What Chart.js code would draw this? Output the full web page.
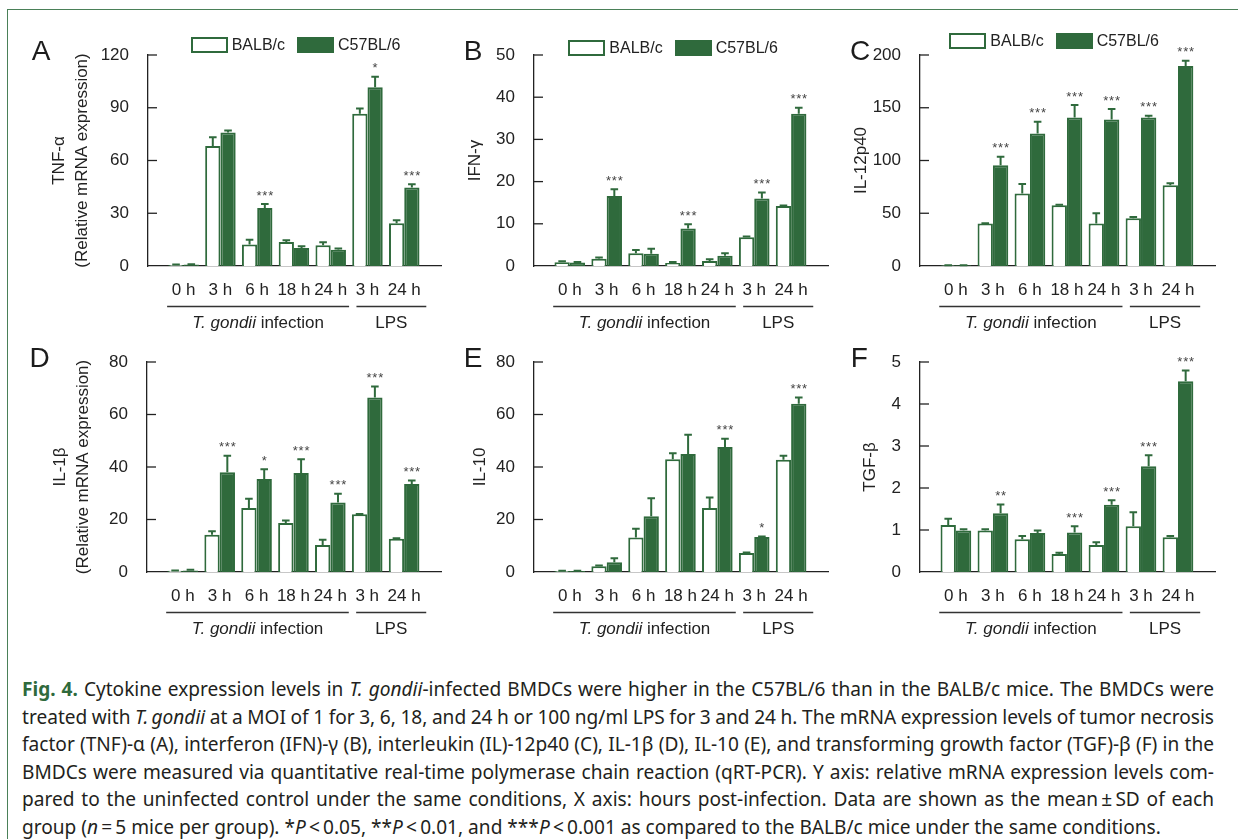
<!DOCTYPE html>
<html><head><meta charset="utf-8">
<script src="https://cdn.jsdelivr.net/npm/chart.js@4.4.1/dist/chart.umd.min.js"></script>
<style>
html,body{margin:0;padding:0;background:#fff;}
body{width:1238px;height:839px;position:relative;overflow:hidden;font-family:'Liberation Sans',Arial,sans-serif;color:#222;}
#frame{position:absolute;left:7px;top:9px;width:1260px;height:860px;border-top:1.5px solid #4a8058;border-left:1.5px solid #4a8058;}
canvas{position:absolute;}
.letter{position:absolute;font-size:28px;line-height:28px;color:#1c1c1c;}
.legend{position:absolute;display:flex;align-items:center;font-size:16px;line-height:16px;color:#222;height:16px;}
.legend .box{width:37px;height:16px;box-sizing:border-box;border:2px solid #2f6a3c;}
.legend .t1{margin:0 12px 0 4px;}
.legend .t2{margin:0 0 0 4px;}
#caption{position:absolute;left:22px;top:676px;width:1192px;font-family:'Noto Sans','Open Sans',sans-serif;font-size:19.1px;line-height:27.6px;color:#231f20;}
#caption .cl{white-space:nowrap;}
#caption .fig{color:#2f6a3c;font-weight:bold;}
</style>
</head><body>
<div id="frame"></div>
<div id="caption">
<div class="cl j"><span><span class="fig">Fig. 4.</span> Cytokine expression levels in <i>T. gondii</i>-infected BMDCs were higher in the C57BL/6 than in the BALB/c mice. The BMDCs were</span></div>
<div class="cl j"><span>treated with <i>T.&#8201;gondii</i> at a MOI of 1 for 3, 6, 18, and 24 h or 100 ng/ml LPS for 3 and 24 h. The mRNA expression levels of tumor necrosis</span></div>
<div class="cl j"><span>factor (TNF)-α (A), interferon (IFN)-γ (B), interleukin (IL)-12p40 (C), IL-1β (D), IL-10 (E), and transforming growth factor (TGF)-β (F) in the</span></div>
<div class="cl j"><span>BMDCs were measured via quantitative real-time polymerase chain reaction (qRT-PCR). Y axis: relative mRNA expression levels com-</span></div>
<div class="cl j"><span>pared to the uninfected control under the same conditions, X axis: hours post-infection. Data are shown as the mean&#8201;±&#8201;SD of each</span></div>
<div class="cl"><span>group (<i>n</i>&#8201;=&#8201;5 mice per group). *<i>P</i>&#8201;&lt;&#8201;0.05, **<i>P</i>&#8201;&lt;&#8201;0.01, and ***<i>P</i>&#8201;&lt;&#8201;0.001 as compared to the BALB/c mice under the same conditions.</span></div>
</div>
<script>
// ---------------- data ----------------
const categories = ['0 h', '3 h', '6 h', '18 h', '24 h', '3 h', '24 h'];
const seriesNames = ['BALB/c', 'C57BL/6'];
const groupNames = ['T. gondii infection', 'LPS'];

const tnfBalb   = [0.5, 68.2, 12.2, 13.7, 11.8, 86.6, 24.3];
const tnfBalbSd = [0.3, 5.0, 2.8, 0.9, 1.7, 3.0, 1.7];
const tnfC57    = [0.8, 75.9, 33.0, 10.3, 9.3, 101.6, 44.6];
const tnfC57Sd  = [0.2, 1.2, 2.3, 0.9, 0.6, 6.1, 1.9];
const tnfSig    = ['', '', '***', '', '', '*', '***'];
const tnfTicks  = [0, 30, 60, 90, 120];

const ifnBalb   = [0.9, 1.7, 3.0, 0.7, 1.2, 6.8, 14.2];
const ifnBalbSd = [0.2, 0.3, 0.8, 0.25, 0.4, 0.2, 0.15];
const ifnC57    = [0.8, 16.6, 2.9, 8.9, 2.45, 16.0, 36.1];
const ifnC57Sd  = [0.15, 1.6, 1.2, 1.0, 0.6, 1.4, 1.4];
const ifnSig    = ['', '***', '', '***', '', '***', '***'];
const ifnTicks  = [0, 10, 20, 30, 40, 50];

const il12Balb   = [0.6, 40.2, 68.7, 57.6, 40.2, 45.3, 76.6];
const il12BalbSd = [0.2, 0.4, 9.1, 0.4, 9.8, 1.2, 1.9];
const il12C57    = [0.6, 95.6, 125.6, 140.8, 138.9, 140.8, 189.6];
const il12C57Sd  = [0.2, 7.9, 11.1, 11.7, 9.8, 1.6, 5.0];
const il12Sig    = ['', '***', '***', '***', '***', '***', '***'];
const il12Ticks  = [0, 50, 100, 150, 200];

const il1bBalb   = [0.5, 14.2, 24.4, 18.7, 10.3, 22.0, 12.7];
const il1bBalbSd = [0.1, 1.3, 3.5, 0.9, 2.0, 0.1, 0.2];
const il1bC57    = [0.6, 38.0, 35.4, 37.7, 26.5, 66.5, 33.5];
const il1bC57Sd  = [0.3, 6.3, 3.7, 5.3, 3.3, 4.2, 1.4];
const il1bSig    = ['', '***', '*', '***', '***', '***', '***'];
const il1bTicks  = [0, 20, 40, 60, 80];

const il10Balb   = [0.4, 2.2, 13.1, 43.0, 24.4, 7.2, 42.8];
const il10BalbSd = [0.1, 0.3, 3.4, 2.2, 4.0, 0.2, 1.5];
const il10C57    = [0.4, 3.7, 21.2, 45.0, 47.6, 13.3, 64.1];
const il10C57Sd  = [0.1, 1.5, 6.9, 7.3, 3.2, 0.2, 2.4];
const il10Sig    = ['', '', '', '', '***', '*', '***'];
const il10Ticks  = [0, 20, 40, 60, 80];

const tgfBalb   = [1.12, 0.99, 0.78, 0.43, 0.64, 1.09, 0.83];
const tgfBalbSd = [0.15, 0.03, 0.08, 0.03, 0.07, 0.33, 0.03];
const tgfC57    = [0.99, 1.40, 0.93, 0.94, 1.60, 2.52, 4.54];
const tgfC57Sd  = [0.03, 0.21, 0.06, 0.15, 0.11, 0.26, 0.26];
const tgfSig    = ['', '**', '', '***', '***', '***', '***'];
const tgfTicks  = [0, 1, 2, 3, 4, 5];

// ---------------- panels ----------------
const panels = [
  {letter: 'A', yTitle: ['TNF-α', '(Relative mRNA expression)'], balb: tnfBalb, balbSd: tnfBalbSd, c57: tnfC57, c57Sd: tnfC57Sd, sig: tnfSig, ticks: tnfTicks},
  {letter: 'B', yTitle: 'IFN-γ', balb: ifnBalb, balbSd: ifnBalbSd, c57: ifnC57, c57Sd: ifnC57Sd, sig: ifnSig, ticks: ifnTicks},
  {letter: 'C', yTitle: 'IL-12p40', balb: il12Balb, balbSd: il12BalbSd, c57: il12C57, c57Sd: il12C57Sd, sig: il12Sig, ticks: il12Ticks},
  {letter: 'D', yTitle: ['IL-1β', '(Relative mRNA expression)'], balb: il1bBalb, balbSd: il1bBalbSd, c57: il1bC57, c57Sd: il1bC57Sd, sig: il1bSig, ticks: il1bTicks},
  {letter: 'E', yTitle: 'IL-10', balb: il10Balb, balbSd: il10BalbSd, c57: il10C57, c57Sd: il10C57Sd, sig: il10Sig, ticks: il10Ticks},
  {letter: 'F', yTitle: 'TGF-β', balb: tgfBalb, balbSd: tgfBalbSd, c57: tgfC57, c57Sd: tgfC57Sd, sig: tgfSig, ticks: tgfTicks}
];

// ---------------- layout & style ----------------
const GREEN = '#2f6a3c';
const AXIS = '#222';
const FONT = "'Liberation Sans', Arial, sans-serif";
const groupSpans = [[-0.45, 4.5], [4.7, 6.6]];
const italicPrefix = 'T. gondii';
const geom = [
  {left: 0,   top: 0,   w: 445, h: 335, axisW: 148, padTop: 55, padRight: 4,  xH: 69, titlePad: 47.5, lx: 31.7,  ly: 37.3,  legend: [190.7, 36.7]},
  {left: 445, top: 0,   w: 390, h: 335, axisW: 89,  padTop: 55, padRight: 7,  xH: 69, titlePad: 18.5, lx: 463.8, ly: 37.3,  legend: [568.3, 40]},
  {left: 835, top: 0,   w: 403, h: 335, axisW: 85,  padTop: 55, padRight: 23, xH: 69, titlePad: 14.5, lx: 850,   ly: 37.3,  legend: [949.3, 33.3]},
  {left: 0,   top: 335, w: 445, h: 325, axisW: 147, padTop: 27, padRight: 4,  xH: 88, titlePad: 48.5, lx: 29.5,  ly: 344.3, legend: null},
  {left: 445, top: 335, w: 390, h: 325, axisW: 89,  padTop: 27, padRight: 7,  xH: 88, titlePad: 24,   lx: 463.8, ly: 344.3, legend: null},
  {left: 835, top: 335, w: 403, h: 325, axisW: 85,  padTop: 27, padRight: 23, xH: 88, titlePad: 23.5, lx: 850.8, ly: 344.3, legend: null}
];

// ---------------- plugins ----------------
const errorBars = {
  id: 'errorBars',
  afterDatasetsDraw(chart) {
    const {ctx, scales: {y}} = chart;
    ctx.save();
    chart.data.datasets.forEach((ds, di) => {
      const meta = chart.getDatasetMeta(di);
      meta.data.forEach((bar, i) => {
        const v = ds.data[i].y;
        const e = ds.sd[i];
        const yTop = y.getPixelForValue(v);
        const yErr = y.getPixelForValue(v + e);
        ctx.strokeStyle = GREEN;
        ctx.lineWidth = 2;
        ctx.beginPath();
        ctx.moveTo(bar.x, yTop);
        ctx.lineTo(bar.x, yErr);
        ctx.moveTo(bar.x - 3.8, yErr);
        ctx.lineTo(bar.x + 3.8, yErr);
        ctx.stroke();
        if (ds.sig && ds.sig[i]) {
          ctx.fillStyle = '#444';
          ctx.font = '13px ' + FONT;
          ctx.textAlign = 'center';
          ctx.textBaseline = 'middle';
          try { ctx.letterSpacing = '0.8px'; } catch (err) {}
          ctx.fillText(ds.sig[i], bar.x + 0.4, yErr - 8);
          try { ctx.letterSpacing = '0px'; } catch (err) {}
        }
      });
    });
    ctx.restore();
  }
};

const innerTicks = {
  id: 'innerTicks',
  afterDraw(chart) {
    const {ctx, chartArea, scales: {y}} = chart;
    ctx.save();
    ctx.strokeStyle = AXIS;
    ctx.lineWidth = 1.3;
    y.ticks.forEach(t => {
      if (t.value === 0) return;
      const py = y.getPixelForValue(t.value);
      ctx.beginPath();
      ctx.moveTo(chartArea.left, py);
      ctx.lineTo(chartArea.left + 9, py);
      ctx.stroke();
    });
    ctx.restore();
  }
};

const groupLabels = {
  id: 'groupLabels',
  afterDraw(chart) {
    const {ctx, chartArea, scales: {x}} = chart;
    ctx.save();
    groupNames.forEach((name, gi) => {
      const x1 = x.getPixelForValue(groupSpans[gi][0]);
      const x2 = x.getPixelForValue(groupSpans[gi][1]);
      const yl = Math.round(chartArea.bottom + 40) + 0.5;
      ctx.strokeStyle = '#333';
      ctx.lineWidth = 1.3;
      ctx.beginPath();
      ctx.moveTo(x1, yl);
      ctx.lineTo(x2, yl);
      ctx.stroke();
      const cx = (x1 + x2) / 2;
      const ty = chartArea.bottom + 57;
      let ital = '', rest = name;
      if (name.startsWith(italicPrefix)) { ital = italicPrefix; rest = name.slice(italicPrefix.length); }
      ctx.fillStyle = AXIS;
      ctx.textBaseline = 'middle';
      ctx.textAlign = 'left';
      ctx.font = 'italic 17px ' + FONT;
      const wi = ctx.measureText(ital).width;
      ctx.font = '17px ' + FONT;
      const wr = ctx.measureText(rest).width;
      let sx = cx - (wi + wr) / 2;
      if (ital) { ctx.font = 'italic 17px ' + FONT; ctx.fillText(ital, sx, ty); }
      ctx.font = '17px ' + FONT;
      ctx.fillText(rest, sx + wi, ty);
    });
    ctx.restore();
  }
};

// ---------------- build ----------------
panels.forEach((p, k) => {
  const g = geom[k];
  const cv = document.createElement('canvas');
  cv.width = g.w; cv.height = g.h;
  cv.style.left = g.left + 'px'; cv.style.top = g.top + 'px';
  cv.style.width = g.w + 'px'; cv.style.height = g.h + 'px';
  document.body.appendChild(cv);

  const letter = document.createElement('div');
  letter.className = 'letter';
  letter.textContent = p.letter;
  letter.style.left = g.lx + 'px'; letter.style.top = g.ly + 'px';
  document.body.appendChild(letter);

  if (g.legend) {
    const lg = document.createElement('div');
    lg.className = 'legend';
    lg.style.left = g.legend[0] + 'px'; lg.style.top = g.legend[1] + 'px';
    lg.innerHTML = '<span class="box" style="background:#fff"></span><span class="t1">' + seriesNames[0] +
      '</span><span class="box" style="background:' + GREEN + '"></span><span class="t2">' + seriesNames[1] + '</span>';
    document.body.appendChild(lg);
  }

  const yMax = p.ticks[p.ticks.length - 1];
  new Chart(cv, {
    type: 'bar',
    data: {
      datasets: [
        {label: seriesNames[0], data: p.balb.map((v, i) => ({x: i, y: v})), sd: p.balbSd,
         backgroundColor: '#ffffff', borderColor: GREEN, borderWidth: 2},
        {label: seriesNames[1], data: p.c57.map((v, i) => ({x: i, y: v})), sd: p.c57Sd, sig: p.sig,
         backgroundColor: GREEN, borderColor: GREEN, borderWidth: 2}
      ]
    },
    options: {
      responsive: false,
      animation: false,
      devicePixelRatio: 1,
      layout: {padding: {top: g.padTop, right: g.padRight, left: 0, bottom: 0}},
      plugins: {legend: {display: false}, tooltip: {enabled: false}},
      datasets: {bar: {categoryPercentage: 0.83, barPercentage: 1.0}},
      scales: {
        x: {
          type: 'linear', min: -0.97, max: 7.0, offset: false, bounds: 'data',
          grid: {display: false, offset: false},
          border: {display: true, color: AXIS, width: 1.3},
          afterBuildTicks: s => { s.ticks = categories.map((c, i) => ({value: i})); },
          afterFit: s => { s.height = g.xH; },
          ticks: {
            callback: v => categories[v],
            autoSkip: false, maxRotation: 0, minRotation: 0,
            padding: 6, color: AXIS,
            font: {family: FONT, size: 17, lineHeight: 1.2}
          }
        },
        y: {
          min: 0, max: yMax,
          grid: {display: false},
          border: {display: true, color: AXIS, width: 1.3},
          afterBuildTicks: s => { s.ticks = p.ticks.map(v => ({value: v})); },
          afterFit: s => { s.width = g.axisW; },
          ticks: {padding: 11, color: AXIS, font: {family: FONT, size: 17}},
          title: {
            display: true, text: p.yTitle, color: AXIS,
            font: {family: FONT, size: 17, lineHeight: 23 / 17},
            padding: {top: g.titlePad, bottom: 0}
          }
        }
      }
    },
    plugins: [errorBars, innerTicks, groupLabels]
  });
});

// ---------------- caption justification ----------------
function fitCaption() {
  const target = 1192;
  document.querySelectorAll('#caption .cl.j > span').forEach(sp => {
    sp.style.wordSpacing = '0px';
    const w = sp.getBoundingClientRect().width;
    const n = (sp.textContent.match(/ /g) || []).length;
    if (n > 0) sp.style.wordSpacing = ((target - w) / n) + 'px';
  });
}
fitCaption();
if (document.fonts && document.fonts.ready) document.fonts.ready.then(fitCaption);
</script>
</body></html>
